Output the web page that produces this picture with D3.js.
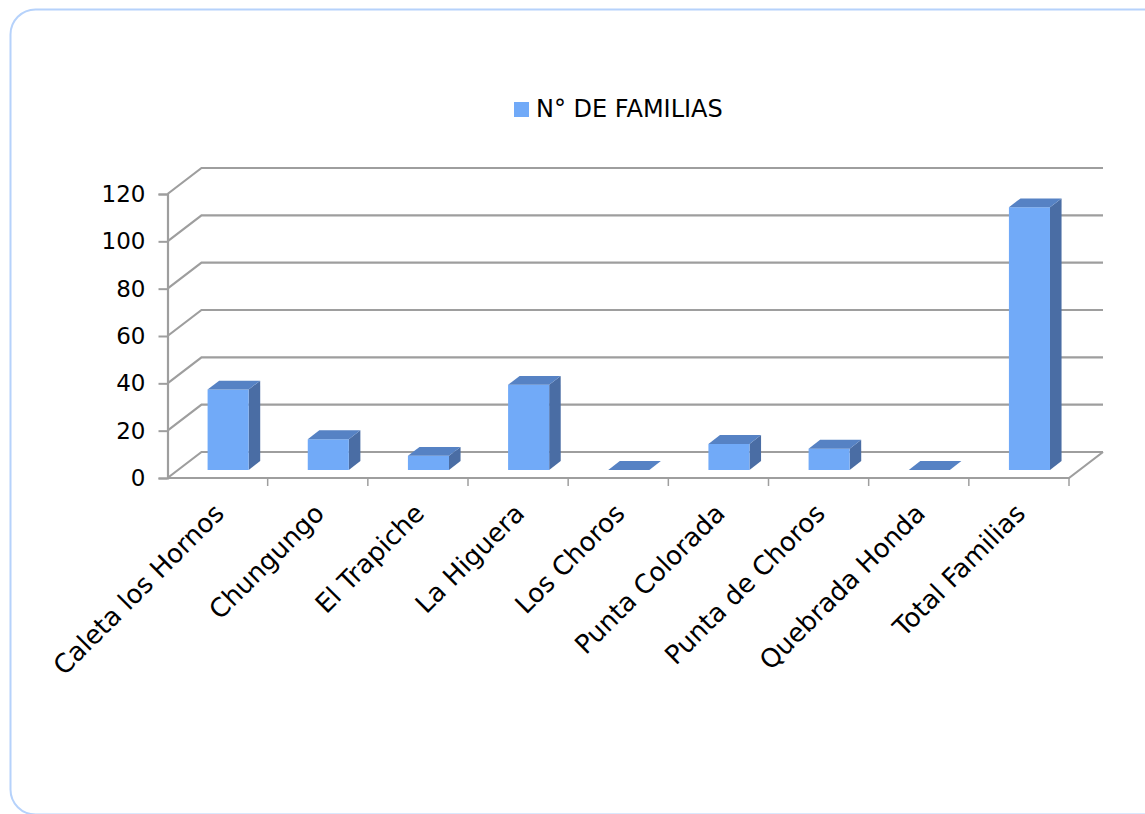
<!DOCTYPE html>
<html>
<head>
<meta charset="utf-8">
<script src="https://cdn.jsdelivr.net/npm/d3@7"></script>
<style>
  body { margin: 0; background: #fff; }
  text { font-family: "DejaVu Sans", sans-serif; }
</style>
</head>
<body>
<svg id="chart" width="1145" height="814"></svg>
<script>
const categories = ["Caleta los Hornos", "Chungungo", "El Trapiche", "La Higuera", "Los Choros",
  "Punta Colorada", "Punta de Choros", "Quebrada Honda", "Total Familias"];
const familias = [34, 13, 6, 36, 0, 11, 9, 0, 111];
const yTicks = [0, 20, 40, 60, 80, 100, 120];
const seriesName = "N° DE FAMILIAS";

const svg = d3.select('#chart');

// card border
svg.append("rect")
  .attr("x", 10.5).attr("y", 9.5)
  .attr("width", 1160).attr("height", 805)
  .attr("rx", 25)
  .attr("fill", "none")
  .attr("stroke", "#b6d2fb")
  .attr("stroke-width", 2);

const x = d3.scaleBand().domain(categories).range([167.5, 1069]);
const y = d3.scaleLinear().domain([0, 120]).range([478, 194]);
const depthX = 34, depthY = -26;   // back wall offset
const d0 = 0.31, d1 = 0.65;        // bar depth from/to
const gridColor = "#9e9e9e";

// project a point at depth d
const p = (px, py, d) => [px + d * depthX, py + d * depthY];

// --- gridlines (left wall + back wall) ---
const g = svg.append("g");
g.selectAll("path.grid")
  .data(yTicks)
  .enter()
  .append("path")
  .attr("class", "grid")
  .attr("fill", "none")
  .attr("stroke", gridColor)
  .attr("stroke-width", 2.2)
  .attr("d", t => {
    const x0 = x.range()[0], x1 = x.range()[1];
    return d3.line()([[x0, y(t)], p(x0, y(t), 1), p(x1, y(t), 1)]);
  });

// floor front edge + right diagonal
g.append("path")
  .attr("fill", "none")
  .attr("stroke", gridColor)
  .attr("stroke-width", 2.2)
  .attr("d", d3.line()([[x.range()[0], y(0)], [x.range()[1], y(0)], p(x.range()[1], y(0), 1)]));

// category tick marks
g.selectAll("line.xtick")
  .data(categories)
  .enter()
  .append("line")
  .attr("stroke", gridColor)
  .attr("stroke-width", 1.5)
  .attr("x1", (d, i) => x.range()[0] + (i + 1) * x.step())
  .attr("x2", (d, i) => x.range()[0] + (i + 1) * x.step())
  .attr("y1", y(0))
  .attr("y2", y(0) + 8);

// y axis
const yAxis = svg.append("g")
  .attr("transform", `translate(${x.range()[0]},0)`)
  .call(d3.axisLeft(y).tickValues(yTicks).tickSize(9).tickPadding(13));
yAxis.select(".domain").attr("stroke", gridColor).attr("stroke-width", 2.2);
yAxis.selectAll(".tick line").attr("stroke", gridColor).attr("stroke-width", 2);
yAxis.selectAll(".tick text")
  .attr("fill", "#000")
  .attr("font-family", "'Liberation Sans', sans-serif")
  .attr("font-size", 23);

// --- 3D bars ---
const bw = x.bandwidth() * 0.41;
const bars = svg.append("g").selectAll("g.bar")
  .data(categories.map((c, i) => ({ c, v: familias[i] })))
  .enter()
  .append("g")
  .attr("class", "bar");

const xl = d => x(d.c) + (x.bandwidth() - bw) / 2;
const xr = d => xl(d) + bw;

bars.filter(d => d.v > 0).append("path")
  .attr("fill", "#4a6da4")
  .attr("d", d => d3.line()([p(xr(d), y(d.v), d0), p(xr(d), y(0), d0), p(xr(d), y(0), d1), p(xr(d), y(d.v), d1)]) + "Z");

bars.filter(d => d.v > 0).append("path")
  .attr("fill", "#71aaf8")
  .attr("d", d => d3.line()([p(xl(d), y(d.v), d0), p(xr(d), y(d.v), d0), p(xr(d), y(0), d0), p(xl(d), y(0), d0)]) + "Z");

bars.append("path")
  .attr("fill", "#5682c4")
  .attr("d", d => d3.line()([p(xl(d), y(d.v), d0), p(xr(d), y(d.v), d0), p(xr(d), y(d.v), d1), p(xl(d), y(d.v), d1)]) + "Z");

// --- category labels ---
svg.append("g").selectAll("text")
  .data(categories)
  .enter()
  .append("text")
  .attr("text-anchor", "end")
  .attr("font-size", 26)
  .attr("fill", "#000")
  .attr("transform", c => `translate(${x(c) + x.bandwidth() / 2 + 8},515) rotate(-45)`)
  .text(c => c);

// --- legend ---
const legend = svg.append("g");
legend.append("rect")
  .attr("x", 514).attr("y", 102)
  .attr("width", 15).attr("height", 15)
  .attr("fill", "#71aaf8");
legend.append("text")
  .attr("x", 536).attr("y", 117)
  .attr("font-size", 24)
  .attr("fill", "#000")
  .text(seriesName);
</script>
</body>
</html>
